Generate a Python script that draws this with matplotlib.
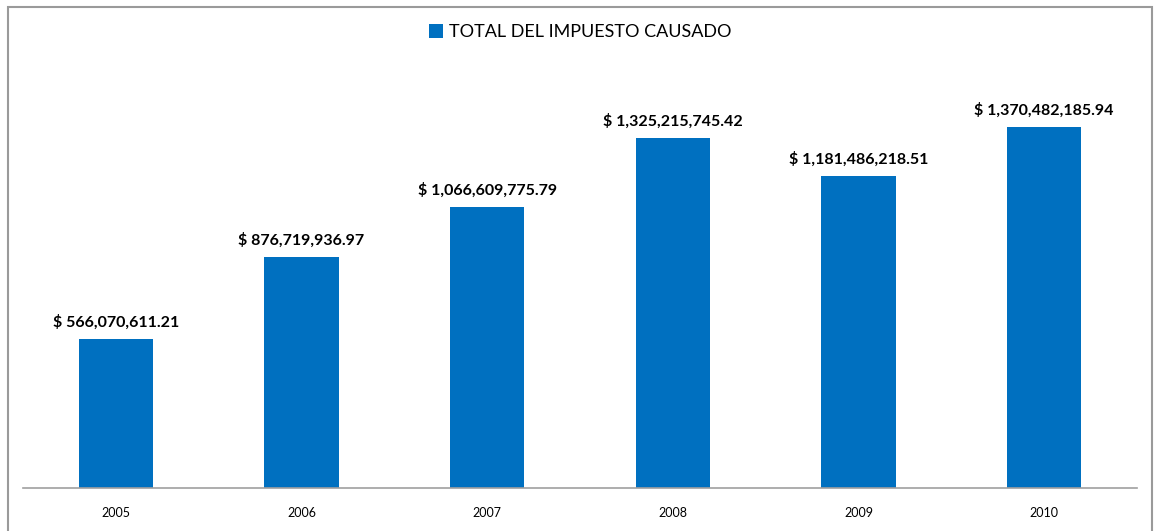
import matplotlib.pyplot as plt
from matplotlib.patches import Rectangle

plt.rcParams['font.family'] = ['Lato', 'DejaVu Sans']

years = ['2005', '2006', '2007', '2008', '2009', '2010']
impuesto = [566070611.21, 876719936.97, 1066609775.79,
            1325215745.42, 1181486218.51, 1370482185.94]
serie = 'TOTAL DEL IMPUESTO CAUSADO'
azul = '#0070C0'

fig = plt.figure(figsize=(11.54, 5.31), dpi=100)
ax = fig.add_axes([23 / 1154, 43 / 531, 1114 / 1154, 422 / 531])

x = range(len(years))
bars = ax.bar(x, impuesto, width=0.4, color=azul, label=serie)
ax.set_xlim(-0.5, len(years) - 0.5)
ax.set_ylim(0, 1.6e9)

for b, v in zip(bars, impuesto):
    ax.text(b.get_x() + b.get_width() / 2, v + 0.035e9, f'$ {v:,.2f}',
            ha='center', va='bottom', fontsize=11.5, fontweight='bold',
            color='black')

ax.set_xticks(list(x))
ax.set_xticklabels(years, fontsize=9)
ax.tick_params(axis='x', length=0, pad=14)
ax.set_yticks([])
for s in ['top', 'right', 'left']:
    ax.spines[s].set_visible(False)
ax.spines['bottom'].set_color('#A0A0A0')
ax.spines['bottom'].set_linewidth(1.2)

ax.legend(loc='center', bbox_to_anchor=(0.5, 1 + 34 / 422), frameon=False,
          fontsize=13, handlelength=0.8, handleheight=0.8, handletextpad=0.3)

# marco del gráfico
fig.patches.append(Rectangle((8 / 1154, -0.05), 1144 / 1154, 1.05 - 7 / 531,
                             transform=fig.transFigure, fill=False,
                             edgecolor='#9A9A9A', linewidth=1.5))

fig.savefig('out.png', dpi=100)
